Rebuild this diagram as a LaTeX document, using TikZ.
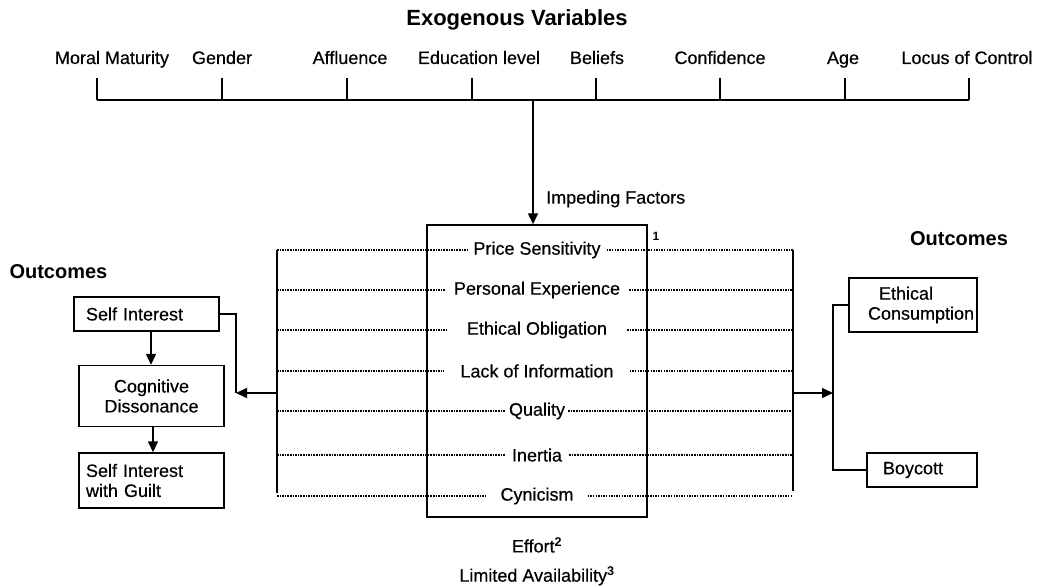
\documentclass[tikz,border=0pt]{standalone}
\usepackage{fontspec}
\setmainfont{Liberation Sans}[UprightFeatures={FakeBold=0.4}]
\usetikzlibrary{arrows.meta}

\begin{document}
\begin{tikzpicture}[x=1pt,y=-1pt,
    lbl/.style={font=\fontsize{18}{20}\selectfont, inner sep=3pt},
    hdr/.style={font=\fontsize{20}{23}\selectfont\bfseries},
    outbox/.style={draw, line width=1.4pt, font=\fontsize{18}{20}\selectfont, inner sep=0pt},
    dots/.style={line width=1.7pt, dash pattern=on 1.5pt off 1.1pt},
    arr/.style={-{Triangle[length=11pt,width=10pt]}, line width=1.4pt}]
                \useasboundingbox (0,0) rectangle (1046,588);

                % exogenous variables
                \node[hdr, font=\fontsize{22}{25}\selectfont\bfseries] (title) at (517,20) {Exogenous Variables};
                \foreach \x/\lx/\t in {97/112/Moral Maturity, 222/222/Gender, 347/350/Affluence,
                        472/479/Education level, 596/597/Beliefs, 720/720/Confidence,
                        845/843/Age, 969/967/Locus of Control} {
                    \node[lbl, anchor=base] at (\lx,64) {\t};
                    \draw[line width=1.4pt] (\x,78) -- (\x,100);
                }
                \coordinate (barl) at (97,100);
                \coordinate (barr) at (969,100);
                \coordinate (bar) at (533,100);
                \draw[line width=1.4pt] (barl) -- (barr);

                % impeding factors
                \node[draw, line width=1.4pt, minimum width=220, minimum height=292] (imp) at (537,371) {};
                \draw[arr] (bar) -- (bar |- imp.north);
                \node[lbl, anchor=west] (impl) at (543,199) {Impeding Factors};
                \node[font=\fontsize{12}{14}\selectfont\bfseries] (n1) at (656,236) {1};

                \coordinate (lt) at (277,250);
                \coordinate (lb) at (277,493);
                \coordinate (rt) at (793,250);
                \coordinate (rb) at (793,491);
                \draw[line width=1.4pt] (lt) -- (lb);
                \draw[line width=1.4pt] (rt) -- (rb);

                \foreach \y/\n/\g/\t in {250/r1/6/Price Sensitivity, 290/r2/9/Personal Experience,
                        330/r3/20/Ethical Obligation, 371/r4/16/Lack of Information, 411/r5/3/Quality,
                        455/r6/7/Inertia, 496/r7/14/Cynicism} {
                    \node[lbl, inner xsep=\g pt] (\n) at (537,\y) {\t};
                    \draw[dots] (277,\y) -- (\n.west);
                    \draw[dots] (\n.east) -- (793,\y);
                }

                \node[lbl] (eff) at (537,545) {Effort\textsuperscript{\bfseries 2}};
                \node[lbl] (lim) at (537,576) {Limited Availability\textsuperscript{\bfseries 3}};

                % left outcomes
                \node[hdr, anchor=west] (outl) at (6,272) {Outcomes};
                \node[outbox, minimum width=145, minimum height=34, text width=121, align=left] (si) at (146.5,314) {Self Interest};
                \node[outbox, minimum width=145, minimum height=61, align=center] (cd) at (151.5,396) {Cognitive\\Dissonance};
                \node[outbox, minimum width=145, minimum height=55, text width=131, align=left] (sg) at (151.5,480.5) {Self Interest\\with Guilt};
                \draw[arr] (si.south -| 151,0) -- (151,0 |- cd.north);
                \draw[arr] (cd.south -| 153,0) -- (153,0 |- sg.north);
                \coordinate (lm) at (277,393);
                \coordinate (la) at (236,393);
                \draw[arr] (lm) -- (la);
                \draw[line width=1.4pt] (si.east) -| (la);

                % right outcomes
                \node[hdr] (outr) at (959,239) {Outcomes};
                \node[outbox, minimum width=128, minimum height=54, text width=122, align=left] (ec) at (913,305) {\hspace*{27pt}\mbox{Ethical}\\\hspace*{16pt}\mbox{Consumption}};
                \node[outbox, minimum width=110, minimum height=34, text width=78, align=left] (bc) at (922,470) {Boycott};
                \coordinate (rm) at (793,393);
                \coordinate (ra) at (833,393);
                \draw[arr] (rm) -- (ra);
                \draw[line width=1.4pt] (ec.west) -| (ra) |- (bc.west);
            \end{tikzpicture}
\end{document}
